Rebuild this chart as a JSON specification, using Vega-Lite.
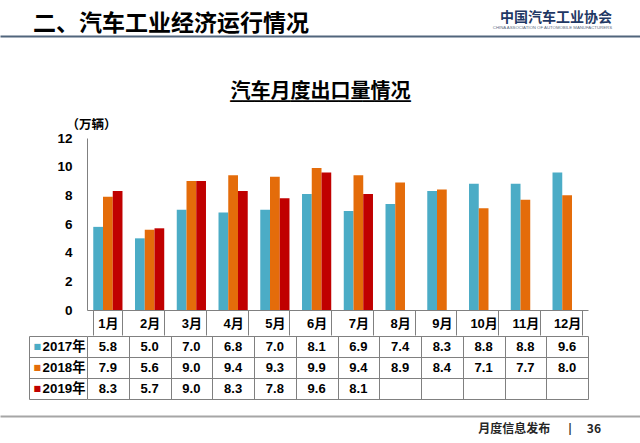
{
  "$schema": "https://vega.github.io/schema/vega-lite/v6.json",
  "background": "white",
  "padding": {"left": 0, "right": 0, "top": 10, "bottom": 0},
  "spacing": -7,
  "datasets": {
    "exports": [
      {"month": "1月", "year": "2017年", "value": 5.8},
      {"month": "2月", "year": "2017年", "value": 5.0},
      {"month": "3月", "year": "2017年", "value": 7.0},
      {"month": "4月", "year": "2017年", "value": 6.8},
      {"month": "5月", "year": "2017年", "value": 7.0},
      {"month": "6月", "year": "2017年", "value": 8.1},
      {"month": "7月", "year": "2017年", "value": 6.9},
      {"month": "8月", "year": "2017年", "value": 7.4},
      {"month": "9月", "year": "2017年", "value": 8.3},
      {"month": "10月", "year": "2017年", "value": 8.8},
      {"month": "11月", "year": "2017年", "value": 8.8},
      {"month": "12月", "year": "2017年", "value": 9.6},
      {"month": "1月", "year": "2018年", "value": 7.9},
      {"month": "2月", "year": "2018年", "value": 5.6},
      {"month": "3月", "year": "2018年", "value": 9.0},
      {"month": "4月", "year": "2018年", "value": 9.4},
      {"month": "5月", "year": "2018年", "value": 9.3},
      {"month": "6月", "year": "2018年", "value": 9.9},
      {"month": "7月", "year": "2018年", "value": 9.4},
      {"month": "8月", "year": "2018年", "value": 8.9},
      {"month": "9月", "year": "2018年", "value": 8.4},
      {"month": "10月", "year": "2018年", "value": 7.1},
      {"month": "11月", "year": "2018年", "value": 7.7},
      {"month": "12月", "year": "2018年", "value": 8.0},
      {"month": "1月", "year": "2019年", "value": 8.3},
      {"month": "2月", "year": "2019年", "value": 5.7},
      {"month": "3月", "year": "2019年", "value": 9.0},
      {"month": "4月", "year": "2019年", "value": 8.3},
      {"month": "5月", "year": "2019年", "value": 7.8},
      {"month": "6月", "year": "2019年", "value": 9.6},
      {"month": "7月", "year": "2019年", "value": 8.1}
    ]
  },
  "title": {
    "text": "二、汽车工业经济运行情况",
    "anchor": "start",
    "frame": "bounds",
    "dx": 33,
    "offset": -25,
    "font": "Noto Sans CJK SC",
    "fontSize": 23,
    "fontWeight": "bold",
    "color": "#000000"
  },
  "vconcat": [
    {
      "width": 501,
      "height": 53,
      "data": {"values": [{}]},
      "mark": {"type": "text", "text": ""},
      "encoding": {
        "x": {
          "datum": 0,
          "type": "quantitative",
          "scale": {"domain": [0, 1], "range": [-87, 553]},
          "axis": {
            "orient": "top",
            "title": null,
            "labels": false,
            "ticks": false,
            "grid": false,
            "domain": true,
            "domainColor": "#51657c",
            "domainWidth": 2
          }
        }
      },
      "title": {
        "text": "中国汽车工业协会",
        "subtitle": "CHINA ASSOCIATION OF AUTOMOBILE MANUFACTURERS",
        "anchor": "end",
        "frame": "group",
        "dx": 24,
        "offset": 6,
        "font": "Noto Sans CJK SC",
        "fontSize": 14,
        "fontWeight": "bold",
        "color": "#1f3864",
        "subtitleFont": "Liberation Sans",
        "subtitleFontSize": 4.3,
        "subtitleColor": "#5a6a80",
        "subtitlePadding": 1
      }
    },
    {
      "width": 501,
      "height": 172,
      "data": {"name": "exports"},
      "title": {
        "text": "汽车月度出口量情况",
        "subtitle": "───────────────",
        "anchor": "middle",
        "frame": "group",
        "dx": -17,
        "offset": 6,
        "font": "Noto Sans CJK SC",
        "fontSize": 20,
        "fontWeight": "bold",
        "color": "#000000",
        "subtitleFont": "DejaVu Sans Mono",
        "subtitleFontSize": 20,
        "subtitleColor": "#000000",
        "subtitlePadding": -10
      },
      "mark": {"type": "bar"},
      "encoding": {
        "x": {
          "field": "month",
          "type": "nominal",
          "sort": ["1月", "2月", "3月", "4月", "5月", "6月", "7月", "8月", "9月", "10月", "11月", "12月"],
          "scale": {
            "domain": ["1月", "2月", "3月", "4月", "5月", "6月", "7月", "8月", "9月", "10月", "11月", "12月"],
            "paddingInner": 0.3,
            "paddingOuter": 0.15
          },
          "axis": {
            "orient": "bottom",
            "title": null,
            "labelAngle": 0,
            "labelFont": "Liberation Sans, Noto Sans CJK SC",
            "labelFontSize": 13,
            "labelFontWeight": "bold",
            "labelColor": "#000000",
            "labelBaseline": "middle",
            "labelPadding": -11.5,
            "tickBand": "extent",
            "tickSize": 25,
            "tickColor": "#808080",
            "domainColor": "#808080",
            "grid": false
          }
        },
        "xOffset": {
          "field": "year",
          "type": "nominal",
          "scale": {"domain": ["2017年", "2018年", "2019年"], "paddingInner": 0, "paddingOuter": 0}
        },
        "y": {
          "field": "value",
          "type": "quantitative",
          "scale": {"domain": [0, 12], "nice": false},
          "axis": {
            "values": [0, 2, 4, 6, 8, 10, 12],
            "grid": false,
            "ticks": false,
            "domainColor": "#808080",
            "labelPadding": 15,
            "labelFont": "Liberation Sans",
            "labelFontSize": 13.5,
            "labelFontWeight": "bold",
            "labelColor": "#000000",
            "title": "（万辆）",
            "titleAngle": 0,
            "titleAlign": "left",
            "titleBaseline": "bottom",
            "titleX": -21,
            "titleY": -7,
            "titleFont": "Noto Sans CJK SC",
            "titleFontSize": 12.5,
            "titleFontWeight": "bold",
            "titleColor": "#000000"
          }
        },
        "color": {
          "field": "year",
          "type": "nominal",
          "scale": {"domain": ["2017年", "2018年", "2019年"], "range": ["#4bacc6", "#e46c0a", "#c00000"]},
          "legend": null
        }
      }
    },
    {
      "width": 501,
      "height": 63,
      "data": {"name": "exports"},
      "layer": [
        {
          "mark": {"type": "text", "font": "Liberation Sans", "fontSize": 13, "fontWeight": "bold", "color": "#000000", "baseline": "middle"},
          "encoding": {
            "x": {
              "field": "month",
              "type": "nominal",
              "scale": {
                "domain": ["1月", "2月", "3月", "4月", "5月", "6月", "7月", "8月", "9月", "10月", "11月", "12月"],
                "paddingInner": 0,
                "paddingOuter": 0
              },
              "axis": {
                "orient": "bottom",
                "title": null,
                "labels": false,
                "ticks": false,
                "domain": false,
                "grid": true,
                "tickBand": "extent",
                "gridColor": "#808080",
                "gridOpacity": 1
              }
            },
            "y": {
              "field": "year",
              "type": "nominal",
              "scale": {"domain": ["2017年", "2018年", "2019年"], "paddingInner": 0, "paddingOuter": 0},
              "axis": {
                "orient": "left",
                "title": null,
                "domain": false,
                "grid": true,
                "gridColor": "#808080",
                "gridOpacity": 1,
                "tickBand": "extent",
                "ticks": true,
                "tickSize": 58,
                "tickColor": "#808080",
                "labelPadding": -56,
                "labelFont": "Liberation Sans, Noto Sans CJK SC",
                "labelFontSize": 13.3,
                "labelFontWeight": "bold",
                "labelColor": "#000000",
                "labelBaseline": "middle"
              }
            },
            "text": {"field": "value", "type": "quantitative", "format": ".1f"}
          }
        },
        {
          "mark": {"type": "text", "text": ""},
          "encoding": {
            "y": {
              "field": "year",
              "type": "nominal",
              "axis": {
                "orient": "left",
                "offset": 58,
                "title": null,
                "domain": true,
                "domainColor": "#808080",
                "ticks": false,
                "tickSize": 0,
                "grid": false,
                "labelExpr": "'■'",
                "labelAlign": "left",
                "labelBaseline": "middle",
                "labelPadding": -4,
                "labelFont": "DejaVu Sans",
                "labelFontSize": 8,
                "labelColor": {
                  "condition": [
                    {"test": "datum.value === '2017年'", "value": "#4bacc6"},
                    {"test": "datum.value === '2018年'", "value": "#e46c0a"}
                  ],
                  "value": "#c00000"
                }
              }
            }
          }
        }
      ],
      "resolve": {"axis": {"y": "independent"}}
    },
    {
      "width": 501,
      "height": 16,
      "data": {"values": [{}]},
      "mark": {"type": "text", "text": ""},
      "encoding": {
        "x": {
          "datum": 0,
          "type": "quantitative",
          "scale": {"domain": [0, 1], "range": [-87, 553]},
          "axis": {
            "orient": "bottom",
            "title": null,
            "labels": false,
            "ticks": false,
            "grid": false,
            "domain": true,
            "domainColor": "#a6a6a6",
            "domainWidth": 2
          }
        }
      },
      "title": {
        "text": "月度信息发布\u2003\u2002|\u2003\u200536",
        "orient": "bottom",
        "anchor": "end",
        "frame": "group",
        "dx": 13,
        "offset": 8,
        "font": "Noto Sans CJK SC",
        "fontSize": 12,
        "fontWeight": "bold",
        "color": "#262626"
      }
    }
  ],
  "config": {
    "view": {"stroke": null},
    "font": "Liberation Sans, Noto Sans CJK SC"
  }
}
